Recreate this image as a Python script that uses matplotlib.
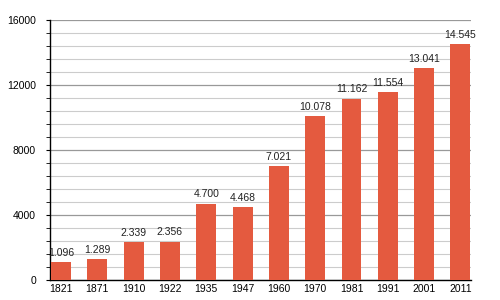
import numpy as np
import matplotlib.pyplot as plt
from matplotlib.ticker import MultipleLocator

years = ["1821", "1871", "1910", "1922", "1935", "1947",
         "1960", "1970", "1981", "1991", "2001", "2011"]
population = [1096, 1289, 2339, 2356, 4700, 4468,
              7021, 10078, 11162, 11554, 13041, 14545]
labels = ["1.096", "1.289", "2.339", "2.356", "4.700", "4.468",
          "7.021", "10.078", "11.162", "11.554", "13.041", "14.545"]

plt.rcParams["font.family"] = ["Liberation Sans", "DejaVu Sans"]

fig = plt.figure(figsize=(5, 3), dpi=100)
ax = fig.add_axes([0.1, 0.067, 0.842, 0.866])

x = np.arange(len(years))
ax.bar(x, population, width=0.55, color="#E45A3F", zorder=3)

# etiquetas de valor sobre cada barra
for xi, v, lab in zip(x, population, labels):
    ax.annotate(lab, (xi, v), xytext=(0, 3), textcoords="offset points",
                ha="center", va="bottom", fontsize=7.5, color="#222222")

ax.set_xlim(-0.3, 11.29)
ax.set_ylim(0, 16000)
ax.set_xticks(x)
ax.set_xticklabels(years, fontsize=7.5)
ax.yaxis.set_major_locator(MultipleLocator(4000))
ax.yaxis.set_minor_locator(MultipleLocator(800))
ax.tick_params(axis="y", which="major", labelsize=7.5, length=3, pad=7)
ax.tick_params(axis="y", which="minor", length=3)
ax.tick_params(axis="x", length=0, pad=3)

ax.grid(axis="y", which="major", color="#999999", linewidth=0.9, zorder=0)
ax.grid(axis="y", which="minor", color="#cccccc", linewidth=0.8, zorder=0)

for s in ["top", "right"]:
    ax.spines[s].set_visible(False)
ax.spines["left"].set_linewidth(1)
ax.spines["bottom"].set_linewidth(1)

fig.savefig("out.png")
